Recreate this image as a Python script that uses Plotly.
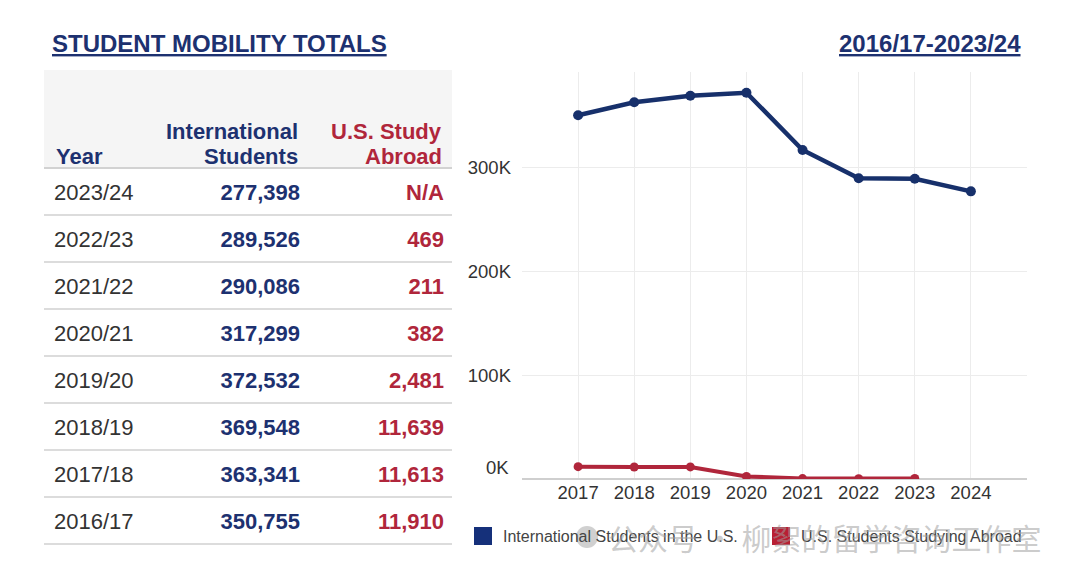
import plotly.graph_objects as go

# ---------------- data ----------------
year_labels = ["2023/24", "2022/23", "2021/22", "2020/21", "2019/20", "2018/19", "2017/18", "2016/17"]
intl_students = [277398, 289526, 290086, 317299, 372532, 369548, 363341, 350755]
us_abroad = [None, 469, 211, 382, 2481, 11639, 11613, 11910]
chart_years = [2024, 2023, 2022, 2021, 2020, 2019, 2018, 2017]
x_tick_vals = [2016, 2017, 2018, 2019, 2020, 2021, 2022, 2023, 2024, 2025]
x_tick_text = ["", "2017", "2018", "2019", "2020", "2021", "2022", "2023", "2024", ""]
y_tick_vals = [0, 100000, 200000, 300000]
y_tick_text = ["0K", "100K", "200K", "300K"]
header_labels = [["Year"], ["International", "Students"], ["U.S. Study", "Abroad"]]
legend_names = ["International Students in the U.S.", "U.S. Students Studying Abroad"]

# ---------------- style ----------------
W, H = 1080, 578
NAVY = "#1d3170"
NAVY_LINE = "#17306b"
RED = "#b0263b"
GREY_TXT = "#333333"
FONT = "Liberation Sans, Arial, sans-serif"


def px(x):
    return x / W


def py(y):
    return 1 - y / H


fig = go.Figure()

# ---------------- table ----------------
TBL_L, TBL_R = 46, 452
HDR_BG_T, HDR_BG_B = 70, 168          # grey header band / first rule
ROW_H = 47
TEXT_SHIFT = -9                        # offsets the (invisible) table rows so text is centred between rules
ROWS_T = HDR_BG_B + TEXT_SHIFT
TBL_B = ROWS_T + ROW_H * len(year_labels)

# grey header background
fig.add_shape(type="rect", xref="paper", yref="paper", layer="below",
              x0=px(44), x1=px(TBL_R), y0=py(HDR_BG_B), y1=py(HDR_BG_T),
              fillcolor="#f5f5f5", line=dict(width=0))

# header labels (bottom-aligned, two-line headers stacked upward)
hdr_x = [54, 300, 444]
hdr_anchor = ["left", "right", "right"]
hdr_color = [NAVY, NAVY, RED]
HDR_LAST_LINE_Y, HDR_LINE_GAP = 156, 25
for lines, hx, anc, colr in zip(header_labels, hdr_x, hdr_anchor, hdr_color):
    n = len(lines)
    for k, line in enumerate(lines):
        fig.add_annotation(xref="paper", yref="paper", x=px(hx),
                           y=py(HDR_LAST_LINE_Y - HDR_LINE_GAP * (n - 1 - k)),
                           xanchor=anc, yanchor="middle", showarrow=False,
                           text="<b>" + line + "</b>",
                           font=dict(family=FONT, size=22, color=colr))

col_year = year_labels
col_intl = ["{:,}".format(v) for v in intl_students]
col_abroad = ["N/A" if v is None else "{:,}".format(v) for v in us_abroad]

fig.add_trace(go.Table(
    domain=dict(x=[px(TBL_L), px(TBL_R)], y=[py(TBL_B), py(ROWS_T)]),
    columnwidth=[124, 138, 144],
    header=dict(values=[], height=0, line=dict(width=0), fill_color="rgba(0,0,0,0)"),
    cells=dict(
        values=[col_year, col_intl, col_abroad],
        align=["left", "right", "right"],
        fill_color="rgba(0,0,0,0)",
        line=dict(width=0, color="rgba(0,0,0,0)"),
        font=dict(family=FONT, size=22, color=[GREY_TXT, NAVY, RED],
                  weight=["normal", "bold", "bold"]),
        height=ROW_H,
    ),
))

# row separators
for i in range(len(year_labels) + 1):
    yy = HDR_BG_B + ROW_H * i
    fig.add_shape(type="line", xref="paper", yref="paper",
                  x0=px(44), x1=px(TBL_R), y0=py(yy), y1=py(yy),
                  line=dict(color="#d2d2d2" if i == 0 else "#dcdcdc", width=2))

# ---------------- line chart ----------------
fig.add_trace(go.Scatter(
    x=chart_years, y=intl_students, mode="lines+markers",
    line=dict(color=NAVY_LINE, width=4.5), marker=dict(size=10, color=NAVY_LINE),
    showlegend=False, hoverinfo="x+y",
))
fig.add_trace(go.Scatter(
    x=chart_years, y=us_abroad, mode="lines+markers",
    line=dict(color=RED, width=4), marker=dict(size=9, color=RED),
    showlegend=False, connectgaps=False, hoverinfo="x+y",
))
# legend entries
for name, col in zip(legend_names, ["#15307a", "#b81f33"]):
    fig.add_trace(go.Scatter(
        x=[None], y=[None], mode="markers", name=name,
        marker=dict(symbol="square", size=16, color=col, line=dict(color=col, width=2)),
    ))

fig.update_xaxes(
    domain=[px(522), px(1027)], range=[2016, 2025],
    tickvals=x_tick_vals, ticktext=x_tick_text,
    showgrid=True, gridcolor="#ececec", gridwidth=1,
    zeroline=False, showline=False, ticks="",
    tickfont=dict(family=FONT, size=18.5, color=GREY_TXT),
    fixedrange=True,
)
fig.update_yaxes(
    domain=[py(479), py(72)], range=[0, 392500],
    tickvals=y_tick_vals[1:], ticktext=y_tick_text[1:],
    showgrid=True, gridcolor="#ececec", gridwidth=1,
    zeroline=True, zerolinecolor="#cfcfcf", zerolinewidth=2,
    showline=False, ticks="", ticklabelstandoff=10,
    tickfont=dict(family=FONT, size=18.5, color=GREY_TXT),
    fixedrange=True,
)
# 0K label sits above the baseline
fig.add_annotation(xref="paper", yref="y", x=px(511), y=y_tick_vals[0], yshift=12,
                   text=y_tick_text[0], showarrow=False, xanchor="right", yanchor="middle",
                   font=dict(family=FONT, size=18.5, color=GREY_TXT))

# ---------------- titles ----------------
fig.add_annotation(xref="paper", yref="paper", x=px(50), y=py(43), xanchor="left", yanchor="middle",
                   text="<b><u>STUDENT MOBILITY TOTALS</u></b>", showarrow=False,
                   font=dict(family=FONT, size=24, color=NAVY))
fig.add_annotation(xref="paper", yref="paper", x=px(1023), y=py(43), xanchor="right", yanchor="middle",
                   text="<b><u>2016/17-2023/24</u></b>", showarrow=False,
                   font=dict(family=FONT, size=24, color=NAVY))

# watermark (WeChat-style badge + text)
fig.add_shape(type="circle", xref="paper", yref="paper",
              x0=px(576), x1=px(598), y0=py(548), y1=py(526),
              fillcolor="rgba(150,150,150,0.45)", line=dict(width=0))
fig.add_annotation(xref="paper", yref="paper", x=px(1043), y=py(537), xanchor="right", yanchor="middle",
                   text="公众号 · 柳絮的留学咨询工作室", showarrow=False,
                   font=dict(family="Noto Sans CJK SC", size=30, color="rgba(160,160,160,0.55)"))

fig.update_layout(
    width=W, height=H,
    margin=dict(l=0, r=0, t=0, b=0),
    paper_bgcolor="white", plot_bgcolor="white",
    font=dict(family=FONT, color=GREY_TXT),
    legend=dict(orientation="h", x=px(463), y=py(536), xanchor="left", yanchor="middle",
                font=dict(family=FONT, size=16, color="#444444"), itemsizing="trace",
                bgcolor="rgba(0,0,0,0)", traceorder="normal", itemwidth=30,
                entrywidth=253, entrywidthmode="pixels"),
    showlegend=True,
)

fig.write_html("out.html", post_script="document.body.style.margin='0';",
               config={"displayModeBar": False})
